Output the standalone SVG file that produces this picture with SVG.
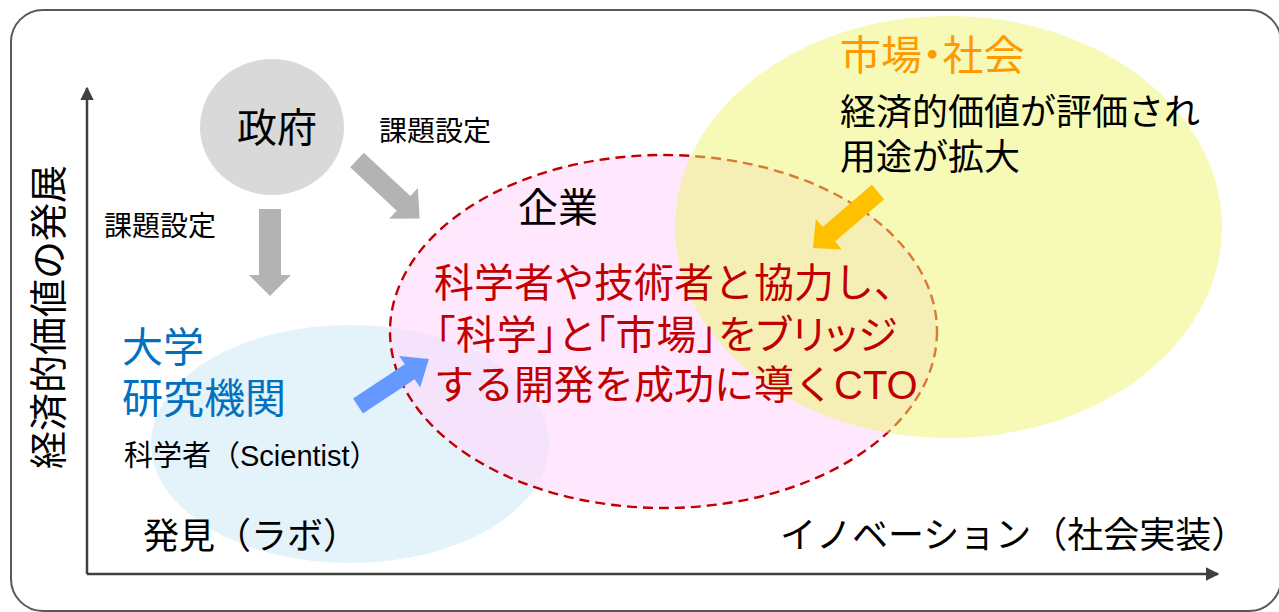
<svg xmlns="http://www.w3.org/2000/svg" width="1279" height="612" viewBox="0 0 1279 612">
<style>
text{font-family:"Liberation Sans","Noto Sans CJK JP",sans-serif;fill:#000}
.big{font-size:40px}
.mid{font-size:36px}
.sm{font-size:28px}
.red{fill:#c00000;font-size:40px}
.blue{fill:#0070c0;font-size:41px}
.gray{fill:#b3b3b3}
.axis{stroke:#404040;stroke-width:2.5;fill:none}
</style>
<defs>
<marker id="ah" viewBox="0 0 10 10" refX="9" refY="5" markerWidth="5.5" markerHeight="5.5" orient="auto" markerUnits="strokeWidth">
<path d="M0,0 L10,5 L0,10 z" fill="#404040"/>
</marker>
</defs>
<rect width="1279" height="612" fill="#fff"/>
<rect x="11" y="10" width="1270" height="601" rx="32" ry="32" fill="none" stroke="#595959" stroke-width="2"/>

<g id="university">
<ellipse cx="350" cy="444" rx="199" ry="119" fill="#e4f2f9"/>
</g>

<g id="company">
<ellipse cx="663.5" cy="331.5" rx="273.5" ry="176.5" fill="#ffd9fb" fill-opacity="0.6" stroke="#c00000" stroke-width="2.4" stroke-dasharray="10,6"/>
</g>

<g id="market">
<ellipse cx="948.5" cy="227" rx="273.5" ry="211" fill="#eef56e" fill-opacity="0.5"/>
</g>

<g id="axes">
<line class="axis" x1="87" y1="574" x2="87" y2="88" marker-end="url(#ah)"/>
<line class="axis" x1="87" y1="574" x2="1218" y2="574" marker-end="url(#ah)"/>
<text class="mid" style="font-size:38px" text-anchor="middle" transform="translate(62,317) rotate(-90)">経済的価値の発展</text>
<text class="mid" x="143" y="549">発見（ラボ）</text>
<text class="mid" x="780" y="548">イノベーション（社会実装）</text>
</g>

<g id="government">
<ellipse cx="272" cy="127" rx="72" ry="68" fill="#d9d9d9"/>
<text class="big" x="277" y="142" text-anchor="middle">政府</text>
</g>

<g id="connectors">
<path class="gray" transform="translate(357,160) rotate(43)" d="M0,-10 L63.6,-10 L63.6,-21 L85.6,0 L63.6,21 L63.6,10 L0,10 z"/>
<path class="gray" transform="translate(270,209) rotate(90)" d="M0,-11 L66,-11 L66,-21 L87,0 L66,21 L66,11 L0,11 z"/>
<path fill="#ffc000" transform="translate(878,192) rotate(139.3)" d="M0,-9.5 L64.8,-9.5 L64.8,-20 L85.8,0 L64.8,20 L64.8,9.5 L0,9.5 z"/>
<path fill="#6699ff" transform="translate(358,406) rotate(-33.5)" d="M0,-9 L62,-9 L62,-19 L85,0 L62,19 L62,9 L0,9 z"/>
<text class="sm" x="379" y="141">課題設定</text>
<text class="sm" x="104" y="236">課題設定</text>
</g>

<g id="company-text">
<text class="big" x="558" y="222" text-anchor="middle">企業</text>
<text class="red" x="434" y="297">科学者や技術者と協力し、</text>
<text class="red" x="435" y="349" style="font-feature-settings:'palt'" textLength="462" lengthAdjust="spacing">「科学」と「市場」をブリッジ</text>
<text class="red" x="434" y="399">する開発を成功に導くCTO</text>
</g>

<g id="market-text">
<text class="big" x="840" y="70" style="fill:#ff9900;font-size:41px;font-feature-settings:'palt'">市場・社会</text>
<text class="mid" x="840" y="125">経済的価値が評価され</text>
<text class="mid" x="840" y="170">用途が拡大</text>
</g>

<g id="university-text">
<text class="blue" x="122" y="362">大学</text>
<text class="blue" x="122" y="413">研究機関</text>
<text x="124" y="466" style="font-size:29px">科学者（Scientist）</text>
</g>
</svg>
